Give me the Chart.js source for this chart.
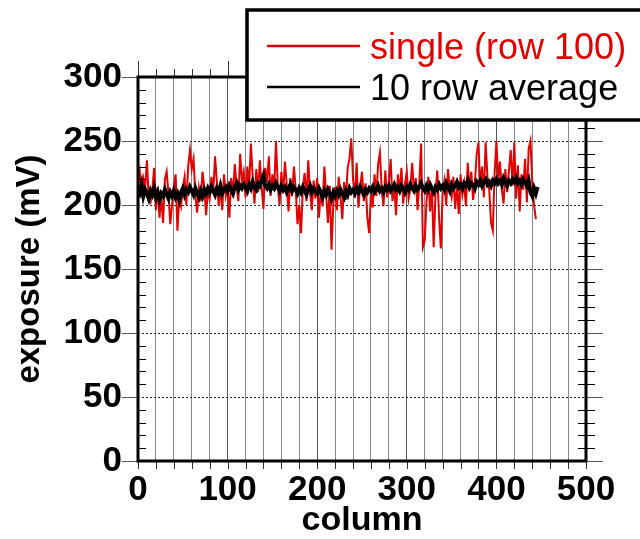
<!DOCTYPE html>
<html>
<head>
<meta charset="utf-8">
<script src="https://cdn.jsdelivr.net/npm/chart.js@4.4.0/dist/chart.umd.min.js"></script>
<style>
  html, body { margin: 0; padding: 0; background: #fff; }
  #wrap { width: 640px; height: 539px; }
</style>
</head>
<body>
<div id="wrap"><canvas id="exposureChart"></canvas></div>
<script>
// single row (row 100), every 2nd column from 0 to 444
const singleRow = [
    218, 226, 206, 221, 214, 235, 204, 202, 212, 229,
    196, 214, 190, 207, 186, 220, 226, 209, 185, 200,
    215, 224, 180, 205, 199, 213, 222, 200, 230, 243,
    228, 236, 208, 194, 213, 203, 226, 214, 192, 210,
    205, 222, 210, 238, 218, 200, 212, 196, 224, 207,
    214, 190, 221, 208, 232, 215, 203, 240, 219, 226,
    206, 230, 213, 248, 222, 201, 228, 210, 235, 214,
    197, 229, 218, 238, 207, 224, 212, 250, 215, 200,
    226, 209, 234, 216, 195, 221, 207, 230, 213, 185,
    200, 178, 214, 225, 203, 235, 210, 196, 219, 205,
    221, 190, 212, 199, 230, 208, 186, 215, 165, 201,
    214, 196, 222, 207, 189, 218, 204, 229, 236, 252,
    220, 206, 233, 198, 214, 226, 203, 217, 190, 178,
    210, 198, 224, 207, 232, 241, 212, 199, 227, 206,
    218, 236, 203, 215, 192, 224, 210, 229, 201, 217,
    226, 205, 213, 233, 209, 221, 196, 218, 248, 167,
    172, 203, 222, 195, 214, 167, 208, 227, 190, 166,
    210, 219, 200, 228, 213, 206, 222, 197, 215, 193,
    224, 208, 217, 199, 233, 212, 226, 204, 218, 240,
    249, 214, 230, 206, 249, 222, 212, 186, 180, 225,
    250, 220, 234, 212, 201, 228, 210, 227, 243, 215,
    249, 205, 231, 195, 224, 212, 236, 202, 244, 250,
    218, 200, 189
];

// 10 row average, every 2nd column from 0 to 446
const rowAverage = [
    214, 210, 216, 207, 212, 209, 205, 211, 208, 213,
    206, 210, 204, 209, 207, 212, 208, 205, 210, 207,
    211, 206, 209, 204, 210, 213, 208, 212, 210, 214,
    211, 208, 213, 209, 206, 211, 207, 212, 209, 213,
    210, 214, 211, 208, 213, 210, 215, 209, 212, 214,
    211, 215, 212, 209, 214, 217, 212, 215, 213, 216,
    214, 211, 216, 213, 218, 214, 212, 217, 215, 219,
    223, 215, 213, 216, 212, 215, 213, 217, 214, 211,
    215, 212, 214, 210, 213, 216, 211, 214, 212, 209,
    213, 210, 214, 211, 208, 212, 215, 210, 213, 211,
    209, 213, 210, 206, 211, 208, 212, 209, 205, 210,
    207, 211, 208, 212, 209, 206, 211, 208, 213, 210,
    212, 209, 213, 210, 214, 211, 208, 212, 210, 213,
    211, 214, 210, 212, 215, 211, 213, 210, 214, 212,
    215, 211, 213, 216, 212, 214, 211, 215, 213, 210,
    214, 212, 216, 213, 211, 215, 212, 214, 217, 213,
    211, 215, 212, 216, 213, 210, 214, 212, 216, 213,
    215, 212, 217, 214, 211, 216, 213, 215, 218, 214,
    216, 213, 217, 215, 219, 214, 217, 216, 213, 218,
    216, 219, 215, 218, 220, 216, 218, 215, 219, 217,
    220, 217, 219, 216, 221, 218, 215, 219, 217, 220,
    218, 221, 217, 219, 216, 220, 218, 215, 219, 210,
    207, 213, 209, 214
];

const columnStep = 2;
const xTickStep = 20;
const yTickStep = 50;

const FONT = 'Arial, "Liberation Sans", Helvetica, sans-serif';

const singlePoints = singleRow.map((v, i) => ({ x: i * columnStep, y: v }));
const averagePoints = rowAverage.map((v, i) => ({ x: i * columnStep, y: v }));

// frame with ticks on all four sides
const frameTicks = {
    id: 'frameTicks',
    afterDatasetsDraw(chart) {
        const { ctx, chartArea: a, scales: { x, y } } = chart;
        ctx.save();
        ctx.lineWidth = 1;
        const seg = (x1, y1, x2, y2) => {
            ctx.beginPath();
            ctx.moveTo(x1, y1);
            ctx.lineTo(x2, y2);
            ctx.stroke();
        };
        for (let v = x.min; v <= x.max; v += xTickStep) {
            const px = Math.round(x.getPixelForValue(v)) + 0.5;
            ctx.strokeStyle = '#333';
            seg(px, a.bottom, px, a.bottom + 8);
            seg(px, a.top - (v % 100 === 0 ? 16 : 8), px, a.top);
        }
        for (let v = y.min; v <= y.max; v += 10) {
            const py = Math.round(y.getPixelForValue(v)) + 0.5;
            if (v % yTickStep === 0) {
                ctx.strokeStyle = '#555';
                seg(a.left - 16, py, a.left, py);
                seg(a.right, py, a.right + 17, py);
            } else {
                ctx.strokeStyle = '#000';
                seg(a.left, py, a.left + 8, py);
                seg(a.right - 8, py, a.right + 9, py);
            }
        }
        ctx.lineWidth = 3;
        ctx.strokeStyle = '#000';
        ctx.strokeRect(a.left, a.top, a.right - a.left, a.bottom - a.top);
        ctx.restore();
    }
};

// boxed legend in the top right corner
const boxLegend = {
    id: 'boxLegend',
    afterDraw(chart) {
        const ctx = chart.ctx;
        ctx.save();
        ctx.fillStyle = '#fff';
        ctx.fillRect(247, 10, 400, 110);
        ctx.lineWidth = 3.5;
        ctx.strokeStyle = '#000';
        ctx.strokeRect(247, 10, 400, 110);
        chart.data.datasets.forEach((ds, i) => {
            const ly = 46 + i * 41;
            ctx.strokeStyle = ds.borderColor;
            ctx.lineWidth = 2.5;
            ctx.beginPath();
            ctx.moveTo(267, ly);
            ctx.lineTo(360, ly);
            ctx.stroke();
            ctx.fillStyle = ds.borderColor;
            ctx.font = '36px ' + FONT;
            ctx.textBaseline = 'alphabetic';
            ctx.fillText(ds.label, 370, ly + 13);
        });
        ctx.restore();
    }
};

const ctx = document.getElementById('exposureChart').getContext('2d');
new Chart(ctx, {
    type: 'line',
    data: {
        datasets: [
            {
                label: 'single (row 100)',
                data: singlePoints,
                borderColor: '#e00000',
                borderWidth: 2,
                pointRadius: 0,
                tension: 0,
                order: 2
            },
            {
                label: '10 row average',
                data: averagePoints,
                borderColor: '#000000',
                borderWidth: 4,
                pointRadius: 0,
                tension: 0,
                order: 1
            }
        ]
    },
    options: {
        responsive: true,
        maintainAspectRatio: false,
        animation: false,
        layout: { padding: { top: 77, right: 54, left: 0, bottom: 0 } },
        plugins: {
            legend: { display: false },
            tooltip: { enabled: false }
        },
        scales: {
            x: {
                type: 'linear',
                min: 0,
                max: 500,
                afterFit: s => { s.height = 78; },
                ticks: {
                    stepSize: xTickStep,
                    autoSkip: false,
                    maxRotation: 0,
                    padding: 8,
                    color: '#000',
                    font: { family: FONT, size: 35, weight: 'bold' },
                    callback: v => (v % 100 === 0 ? v : '')
                },
                grid: {
                    drawTicks: false,
                    color: c => (c.tick && c.tick.value % 100 === 0 ? '#555' : '#888')
                },
                border: { display: false },
                title: {
                    display: true,
                    text: 'column',
                    color: '#000',
                    font: { family: FONT, size: 34, weight: 'bold', lineHeight: 1.1 },
                    padding: { top: 0, bottom: 0 }
                }
            },
            y: {
                min: 0,
                max: 300,
                afterFit: s => { s.width = 138; },
                ticks: {
                    stepSize: yTickStep,
                    padding: 16,
                    color: '#000',
                    font: { family: FONT, size: 35, weight: 'bold' }
                },
                grid: { drawTicks: false, color: '#222' },
                border: { display: false, dash: [2, 2] },
                title: {
                    display: true,
                    text: 'exposure (mV)',
                    color: '#000',
                    font: { family: FONT, size: 33, weight: 'bold', lineHeight: 1.2 },
                    padding: { top: 10, bottom: 0 }
                }
            }
        }
    },
    plugins: [frameTicks, boxLegend]
});
</script>
</body>
</html>
